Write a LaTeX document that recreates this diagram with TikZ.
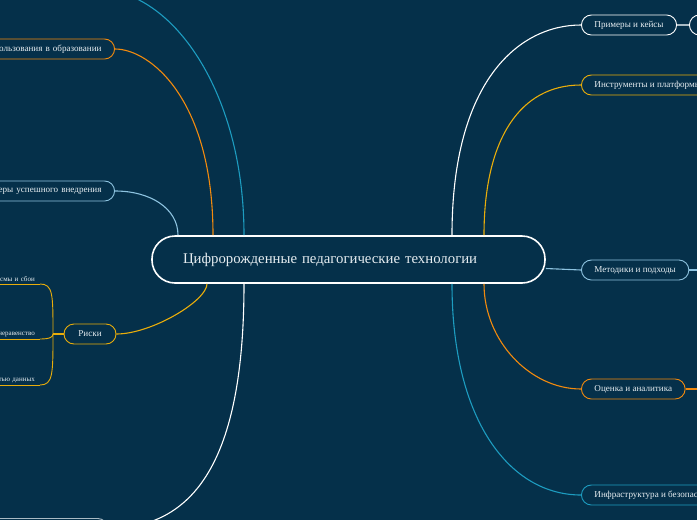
\documentclass[tikz,border=0pt]{standalone}
\usepackage{fontspec}
\setmainfont{Liberation Serif}
\usetikzlibrary{positioning}

\definecolor{mapbg}{HTML}{05304A}
\definecolor{maporange}{HTML}{F28A0E}
\definecolor{mapgold}{HTML}{E9AD0B}
\definecolor{maplight}{HTML}{8DC3E0}
\definecolor{mapcyan}{HTML}{1D9CC0}
\definecolor{mapgrey}{HTML}{A9BAC4}
\definecolor{maptext}{HTML}{E6EDF1}

\begin{document}
\begin{tikzpicture}[x=1pt, y=-1pt,
    topic/.style={draw=#1, fill=mapbg, text=maptext, rounded corners=10pt, line width=0.9pt,
      minimum height=20pt, inner xsep=13pt, font=\fontsize{9.1}{10}\selectfont},
    root/.style={draw=white, fill=mapbg, text=maptext, rounded corners=23pt, line width=1.6pt,
      minimum height=47pt, text width=331pt, inner xsep=31pt, align=left, font=\fontsize{14.8}{17}\selectfont},
    leaf/.style={text=maptext, inner xsep=5pt, inner ysep=2pt, text width=72pt, align=right,
      font=\fontsize{7}{8}\selectfont},
    link/.style={draw=#1, line width=1.1pt}]
    \useasboundingbox (0,0) rectangle (697,520);
    \fill[mapbg] (0,0) rectangle (697,520);
    \clip (0,0) rectangle (697,520);

    \node[root] (root) at (348.5,259.5) {Цифророжденные педагогические технологии};

    \node[topic=maporange, anchor=east, text width=150pt, align=right] (usage) at (115,49) {ользования в образовании};
    \node[topic=maplight, anchor=east, text width=150pt, align=right] (success) at (115,191) {еры успешного внедрения};
    \node[topic=mapgold, minimum width=52pt] (risks) at (90,334) {Риски};
    \node[topic=mapgrey, anchor=north east, minimum width=160pt] (lower) at (108,518) {};
    \coordinate (upper) at (100,-10);

    \node[topic=white, anchor=west] (cases) at (581,25) {Примеры и кейсы};
    \node[topic=white, anchor=west, minimum width=40pt] (casesub) at (689,25) {};
    \node[topic=mapgold, anchor=west] (tools) at (581,85) {Инструменты и платформы};
    \node[topic=maplight, anchor=west] (methods) at (581,270) {Методики и подходы};
    \node[topic=maporange, anchor=west] (eval) at (581,389) {Оценка и аналитика};
    \node[topic=mapcyan, anchor=west] (infra) at (581,495) {Инфраструктура и безопасность};
    \coordinate (methout) at (700,270);
    \coordinate (evalout) at (700,389);

    \draw[link=mapcyan] ([xshift=-104.5pt]root.north) .. controls +(0,-146) and +(70,0) .. (upper);
    \draw[link=maporange] (usage.east) .. controls +(35,0) and +(0,-136) .. ([xshift=-135.5pt]root.north);
    \draw[link=maplight] (success.east) .. controls +(35,0) and +(0,-27) .. ([xshift=-170.5pt]root.north);
    \draw[link=mapgold] (risks.east) .. controls +(35,0) and +(0,17) .. ([xshift=-141.5pt]root.south);
    \draw[link=white] ([xshift=-104.5pt]root.south) .. controls +(0,167) and +(92,0) .. (lower.east);

    \draw[link=white] ([xshift=103.5pt]root.north) .. controls +(0,-156) and +(-61,0) .. (cases.west);
    \draw[link=mapgold] ([xshift=135.5pt]root.north) .. controls +(0,-96) and +(-61,0) .. (tools.west);
    \draw[link=maplight] ([yshift=-9pt]root.east) .. controls +(18,0) and +(-18,0) .. (methods.west);
    \draw[link=maporange] ([xshift=135.5pt]root.south) .. controls +(0,57) and +(-51,0) .. (eval.west);
    \draw[link=mapcyan] ([xshift=103.5pt]root.south) .. controls +(0,137) and +(-71,0) .. (infra.west);
    \draw[link=mapgrey] (cases) -- (casesub);
    \draw[link=maplight] (methods) -- (methout);
    \draw[link=maporange] (eval) -- (evalout);

    \coordinate (rsplit) at (53,334);
    \draw[link=mapgold] (risks) -- (rsplit);
    \foreach \t/\y [count=\i] in {смы и сбои/284, неравенство/339, тью данных/385}
      \node[leaf, anchor=south east] (r\i) at (40,\y) {\t};
    \foreach \i in {1,2,3}
      \draw[link=mapgold, line width=0.9pt] (r\i.south west) -- (r\i.south east);
    \draw[link=mapgold, line width=0.9pt] (r1.south east) .. controls +(13,0) and +(0,-40) .. (rsplit);
    \draw[link=mapgold, line width=0.9pt] (r2.south east) .. controls +(10,0) and +(0,3) .. (rsplit);
    \draw[link=mapgold, line width=0.9pt] (r3.south east) .. controls +(13,0) and +(0,40) .. (rsplit);
\end{tikzpicture}
\end{document}
